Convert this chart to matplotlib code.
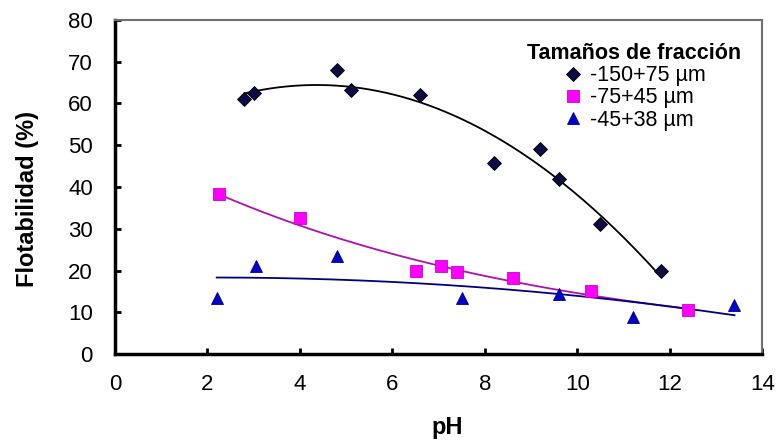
import numpy as np
import matplotlib
matplotlib.use("Agg")
import matplotlib.pyplot as plt

plt.rcParams['font.family'] = ['Liberation Sans', 'DejaVu Sans']

# -150+75 um
ph_150 = [2.8, 3.0, 4.8, 5.1, 6.6, 8.2, 9.2, 9.6, 10.5, 11.8]
flot_150 = [61.0, 62.5, 68.0, 63.3, 62.0, 45.7, 49.0, 42.0, 31.2, 19.8]
# -75+45 um
ph_75 = [2.25, 4.0, 6.5, 7.05, 7.4, 8.6, 10.3, 12.4]
flot_75 = [38.3, 32.5, 20.0, 21.2, 19.7, 18.2, 15.0, 10.5]
# -45+38 um
ph_45 = [2.2, 3.05, 4.8, 7.5, 9.6, 11.2, 13.4]
flot_45 = [13.5, 21.0, 23.6, 13.5, 14.5, 9.0, 11.8]

labels = ['-150+75 \u00b5m', '-75+45 \u00b5m', '-45+38 \u00b5m']

fig = plt.figure(figsize=(7.77, 4.41), dpi=100)
ax = fig.add_axes([0.148, 0.197, 0.833, 0.758])

# trend lines (Excel style): polynomial / exponential fits of the data
x1 = np.linspace(min(ph_150), max(ph_150), 200)
c1 = np.polyfit(ph_150, flot_150, 2)
ax.plot(x1, np.polyval(c1, x1), color='black', lw=1.3)

x2 = np.linspace(min(ph_75), max(ph_75), 200)
c2 = np.polyfit(ph_75, np.log(flot_75), 1)
ax.plot(x2, np.exp(np.polyval(c2, x2)), color='#b010b0', lw=1.3)

x3 = np.linspace(min(ph_45), max(ph_45), 200)
c3 = np.polyfit(ph_45, flot_45, 2)
ax.plot(x3, np.polyval(c3, x3), color='#000080', lw=1.3)

ax.plot(ph_150, flot_150, 'D', color='#0b0b45', mec='black', mew=0.6, ms=7.5,
        ls='none', label=labels[0])
ax.plot(ph_75, flot_75, 's', color='#ff00ff', mec='#cc00cc', mew=0.6, ms=8,
        ls='none', label=labels[1])
ax.plot(ph_45, flot_45, '^', color='#0000c8', mec='#000090', mew=0.6, ms=8.5,
        ls='none', label=labels[2])

ax.set_xlim(0, 14)
ax.set_ylim(0, 80)
ax.set_xticks(range(0, 15, 2))
ax.set_yticks(range(0, 81, 10))
ax.tick_params(direction='in', length=4, width=2, labelsize=16)
ax.tick_params(axis='y', pad=16)
ax.tick_params(axis='x', pad=14)

for s in ['left', 'bottom']:
    ax.spines[s].set_linewidth(2.5)
    ax.spines[s].set_color('black')
for s in ['top', 'right']:
    ax.spines[s].set_linewidth(1.5)
    ax.spines[s].set_color('#707070')

ax.set_xlabel('pH', fontsize=17, fontweight='bold')
ax.set_ylabel('Flotabilidad (%)', fontsize=17, fontweight='bold')
ax.xaxis.set_label_coords(0.513, -0.185)
ax.yaxis.set_label_coords(-0.118, 0.464)

leg = ax.legend(title='Tamaños de fracción', loc='upper right',
                bbox_to_anchor=(0.99, 0.975), frameon=False, fontsize=15.5,
                title_fontproperties={'weight': 'bold', 'size': 15.5},
                handletextpad=0.3, labelspacing=0.05, handlelength=1.0,
                borderpad=0.2)

fig.savefig('out.png', dpi=100)
